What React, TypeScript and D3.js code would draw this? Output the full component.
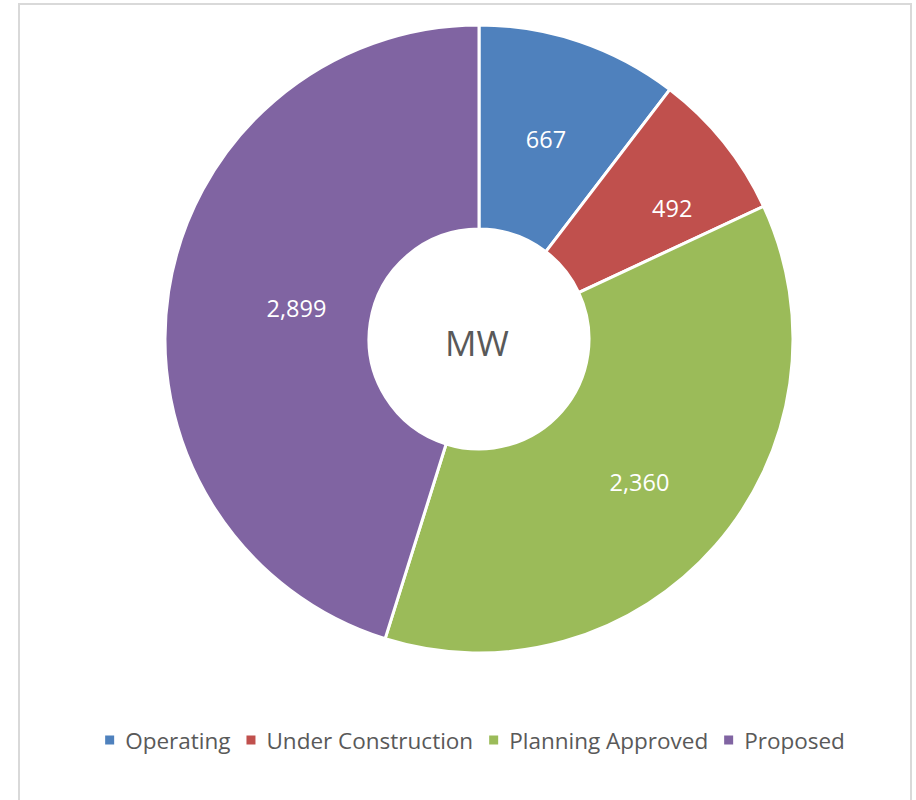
import React from "react";
import * as d3 from "d3";

const categories = ["Operating", "Under Construction", "Planning Approved", "Proposed"];
const values = [667, 492, 2360, 2899];
const labels = ["667", "492", "2,360", "2,899"];
const colors = ["#4F81BD", "#C0504D", "#9BBB59", "#8064A2"];
const centerLabel = "MW";
// small nudges of data labels (px) to follow the reference's label placement
const labelNudge: [number, number][] = [[-1, 1], [28, 2], [1, 3], [27, 1]];

const W = 916;
const H = 800;
const cx = 479;
const cy = 339;
const outerR = 314;
const innerR = 110;
const FONT = "'Open Sans', 'DejaVu Sans', sans-serif";

function measure(text: string, size: number): number {
  const c = document.createElement("canvas").getContext("2d");
  if (!c) return text.length * size * 0.55;
  c.font = `${size}px 'Open Sans'`;
  return c.measureText(text).width;
}

export default function App() {
  const pie = d3.pie<number>().value((d) => d).sort(null)(values);
  const arc = d3.arc<d3.PieArcDatum<number>>().innerRadius(innerR).outerRadius(outerR);
  const labelArc = d3
    .arc<d3.PieArcDatum<number>>()
    .innerRadius((innerR + outerR) / 2)
    .outerRadius((innerR + outerR) / 2);

  const legendSize = 22.5;
  const marker = 9;
  const gapMarkerText = 11;
  const gapItems = 16;
  const widths = categories.map((c) => measure(c, legendSize));
  const itemW = widths.map((w) => marker + gapMarkerText + w);
  const total = itemW.reduce((a, b) => a + b, 0) + gapItems * (categories.length - 1);
  let x0 = 475 - total / 2;
  const legendX: number[] = [];
  itemW.forEach((w) => {
    legendX.push(x0);
    x0 += w + gapItems;
  });
  const legendY = 740;

  return (
    <div style={{ position: "absolute", left: 0, top: 0 }}>
      <svg width={W} height={H} style={{ display: "block" }}>
        <rect x={0} y={0} width={W} height={H} fill="#ffffff" />
        <rect x={19} y={4} width={892} height={810} fill="#ffffff" stroke="#d9d9d9" strokeWidth={2} />
        <g transform={`translate(${cx},${cy})`}>
          {pie.map((p, i) => (
            <path key={i} d={arc(p) || ""} fill={colors[i]} stroke="#ffffff" strokeWidth={3} strokeLinejoin="miter" />
          ))}
          {pie.map((p, i) => {
            const [lx, ly] = labelArc.centroid(p);
            return (
              <text
                key={"l" + i}
                x={lx + labelNudge[i][0]}
                y={ly + labelNudge[i][1]}
                textAnchor="middle"
                dominantBaseline="central"
                fill="#ffffff"
                fontFamily={FONT}
                fontSize={23.5}
              >
                {labels[i]}
              </text>
            );
          })}
          <text
            x={-2}
            y={3}
            textAnchor="middle"
            dominantBaseline="central"
            fill="#595959"
            fontFamily={FONT}
            fontSize={35}
          >
            {centerLabel}
          </text>
        </g>
        <g>
          {categories.map((c, i) => (
            <g key={c} transform={`translate(${legendX[i]},${legendY})`}>
              <rect x={0} y={-marker / 2} width={marker} height={marker} fill={colors[i]} />
              <text
                x={marker + gapMarkerText}
                y={0}
                dominantBaseline="central"
                fill="#595959"
                fontFamily={FONT}
                fontSize={legendSize}
              >
                {c}
              </text>
            </g>
          ))}
        </g>
      </svg>
    </div>
  );
}
